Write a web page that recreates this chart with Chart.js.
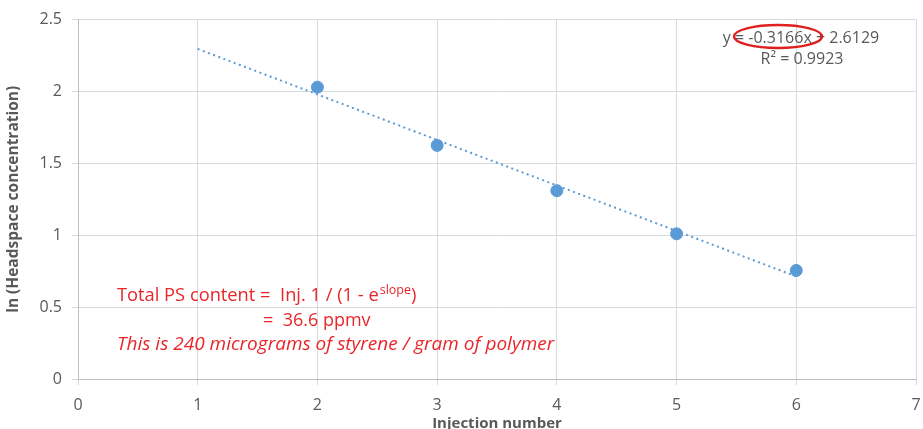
<!DOCTYPE html>
<html><head><meta charset="utf-8">
<script src="https://cdn.jsdelivr.net/npm/chart.js@4"></script>
<style>html,body{margin:0;padding:0;background:#fff}#wrap{width:923px;height:429px}</style>
</head><body><div id="wrap"><canvas id="c" width="923" height="429"></canvas></div>
<script>
const injections = [2, 3, 4, 5, 6];
const lnConc = [2.03, 1.625, 1.31, 1.01, 0.755];
const trendX = [1, 6];
const trendY = [2.296, 0.713];
const xTicks = [0, 1, 2, 3, 4, 5, 6, 7];
const yTicks = [0, 0.5, 1, 1.5, 2, 2.5];
const eqLine1 = 'y = -0.3166x + 2.6129';
const eqLine2 = 'R\u00B2 = 0.9923';
const note1a = 'Total PS content =  Inj. 1 / (1 - e';
const note1sup = 'slope';
const note1b = ')';
const note2 = '=  36.6 ppmv';
const note3 = 'This is 240 micrograms of styrene / gram of polymer';

const FONT = "'Open Sans', 'Liberation Sans', sans-serif";
const blue = '#5b9bd5';

const textPlugin = {
  id: 'texts',
  afterDraw(chart) {
    const ctx = chart.ctx;
    ctx.save();
    ctx.textBaseline = 'middle';
    ctx.fillStyle = '#595959';
    ctx.font = '16px ' + FONT;
    ctx.textAlign = 'center';
    ctx.fillText(eqLine1, 801, 38);
    ctx.fillText(eqLine2, 802, 59);
    // red ellipse
    ctx.strokeStyle = '#e02020';
    ctx.lineWidth = 2.5;
    ctx.beginPath();
    ctx.ellipse(778, 36.5, 44, 11.5, 0, 0, Math.PI * 2);
    ctx.stroke();
    // red notes
    ctx.fillStyle = '#e8262a';
    ctx.textAlign = 'left';
    ctx.font = '18.3px ' + FONT;
    let x = 117;
    ctx.fillText(note1a, x, 296);
    x += ctx.measureText(note1a).width;
    ctx.font = '12.5px ' + FONT;
    ctx.fillText(note1sup, x + 1, 290);
    x += ctx.measureText(note1sup).width + 1;
    ctx.font = '18.3px ' + FONT;
    ctx.fillText(note1b, x, 296);
    ctx.font = '18px ' + FONT;
    ctx.fillText(note2, 263, 321);
    ctx.font = 'italic 19px ' + FONT;
    ctx.fillText(note3, 117, 345);
    ctx.restore();
  }
};

new Chart(document.getElementById('c'), {
  type: 'scatter',
  data: {
    datasets: [
      {
        type: 'line',
        data: trendX.map((v, i) => ({x: v, y: trendY[i]})),
        borderColor: blue,
        borderWidth: 2,
        borderDash: [2, 3.5],
        pointRadius: 0,
        fill: false,
        order: 2
      },
      {
        data: injections.map((v, i) => ({x: v, y: lnConc[i]})),
        backgroundColor: blue,
        borderColor: blue,
        pointRadius: 6,
        order: 1
      }
    ]
  },
  options: {
    responsive: false,
    animation: false,
    devicePixelRatio: 1,
    layout: {padding: {left: 0, right: 3, top: 18, bottom: 0}},
    plugins: {legend: {display: false}, tooltip: {enabled: false}},
    scales: {
      x: {
        type: 'linear', min: 0, max: 7,
        afterBuildTicks: s => { s.ticks = xTicks.map(v => ({value: v})); },
        afterFit: s => { s.height = 50; s.paddingLeft = 0; s.paddingRight = 0; },
        grid: {color: '#d9d9d9', tickLength: 6, drawTicks: true},
        border: {color: '#bfbfbf'},
        ticks: {color: '#595959', font: {size: 16, family: FONT}, padding: 11},
        title: {display: true, text: 'Injection number', color: '#595959', font: {size: 15, weight: 'bold', family: FONT}, padding: {top: 1, bottom: -4}}
      },
      y: {
        type: 'linear', min: 0, max: 2.5,
        afterBuildTicks: s => { s.ticks = yTicks.map(v => ({value: v})); },
        afterFit: s => { s.width = 78; },
        grid: {color: '#d9d9d9', tickLength: 6},
        border: {color: '#bfbfbf'},
        ticks: {color: '#595959', font: {size: 16, family: FONT}, padding: 10, callback: v => String(v)},
        title: {display: true, text: 'ln (Headspace concentration)', color: '#595959', font: {size: 15.5, weight: 'bold', family: FONT}, padding: {top: 4, bottom: 4}}
      }
    }
  },
  plugins: [textPlugin]
});
</script></body></html>
